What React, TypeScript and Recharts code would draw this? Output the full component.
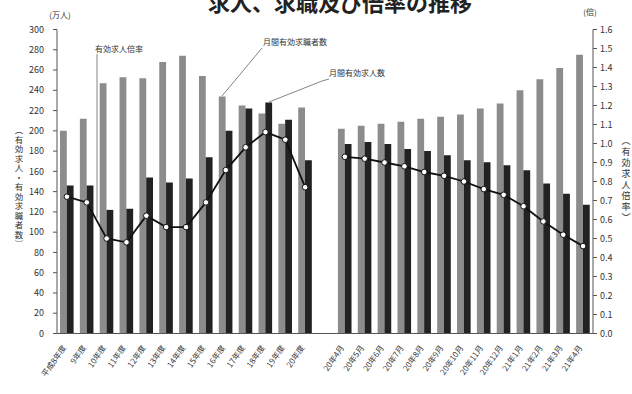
import React from 'react';
import { ComposedChart, Bar, Line, XAxis, YAxis } from 'recharts';

const categories = ['平成8年度','9年度','10年度','11年度','12年度','13年度','14年度','15年度','16年度','17年度','18年度','19年度','20年度','','20年4月','20年5月','20年6月','20年7月','20年8月','20年9月','20年10月','20年11月','20年12月','21年1月','21年2月','21年3月','21年4月'];
const seekers = [200,212,247,253,252,268,274,254,234,225,217,207,223,null,202,205,207,209,212,214,216,222,227,240,251,262,275];
const offers = [146,146,122,123,154,149,153,174,200,222,228,211,171,null,187,189,187,182,180,176,171,169,166,161,148,138,127];
const ratio = [0.72,0.69,0.50,0.48,0.62,0.56,0.56,0.69,0.86,0.98,1.06,1.02,0.77,null,0.93,0.92,0.90,0.88,0.85,0.83,0.80,0.76,0.73,0.67,0.59,0.52,0.46];
const leftTicks = [0,20,40,60,80,100,120,140,160,180,200,220,240,260,280,300];
const rightTicks = [0,0.1,0.2,0.3,0.4,0.5,0.6,0.7,0.8,0.9,1.0,1.1,1.2,1.3,1.4,1.5,1.6];

const data = categories.map((name, i) => ({ name, seekers: seekers[i], offers: offers[i], ratio: ratio[i] }));

const FONT = "'Noto Sans CJK JP', 'Noto Sans', sans-serif";

const AngledTick = (props: any) => {
  const { x, y, payload } = props;
  return (
    <g transform={`translate(${x - 2},${y + 5}) rotate(-55)`}>
      <text x={0} y={0} textAnchor="end" dominantBaseline="middle" fontSize={8} fill="#333" fontFamily={FONT}>
        {payload.value}
      </text>
    </g>
  );
};

export default function App() {
  return (
    <div style={{ position: 'absolute', left: 0, top: 0, width: 632, height: 394, background: '#fff', fontFamily: FONT }}>
      <ComposedChart width={632} height={394} data={data} margin={{ top: 29.5, right: 0, bottom: 0, left: 0 }} barGap={0} barCategoryGap="17%">
        <XAxis dataKey="name" interval={0} height={60.5} tick={<AngledTick />} tickLine={false} axisLine={{ stroke: '#555' }} />
        <YAxis yAxisId="l" domain={[0, 300]} ticks={leftTicks} width={57} tickSize={4} tickMargin={9} axisLine={{ stroke: '#555' }} tickLine={{ stroke: '#555' }} tick={{ fontSize: 9, fill: '#333' }} interval={0} />
        <YAxis yAxisId="r" orientation="right" domain={[0, 1.6]} ticks={rightTicks} width={39} tickSize={4} tickMargin={3} axisLine={{ stroke: '#555' }} tickLine={{ stroke: '#555' }} tick={{ fontSize: 9, fill: '#333' }} tickFormatter={(v: number) => v.toFixed(1)} interval={0} />
        <Bar yAxisId="l" dataKey="seekers" fill="#8c8c8c" barSize={6.8} isAnimationActive={false} />
        <Bar yAxisId="l" dataKey="offers" fill="#222" barSize={6.8} isAnimationActive={false} />
        <Line yAxisId="r" dataKey="ratio" type="linear" stroke="#111" strokeWidth={1.8} dot={{ r: 2.8, fill: '#fff', stroke: '#111', strokeWidth: 1 }} isAnimationActive={false} connectNulls={false} />
      </ComposedChart>
      <svg width={632} height={394} style={{ position: 'absolute', left: 0, top: 0, pointerEvents: 'none' }}>
        <text x={340} y={11} textAnchor="middle" fontSize={22} fontWeight="bold" fill="#222" fontFamily={FONT}>求人、求職及び倍率の推移</text>
        <text x={60} y={18} textAnchor="middle" fontSize={8} fill="#333" fontFamily={FONT}>(万人)</text>
        <text x={590} y={15} textAnchor="middle" fontSize={8} fill="#333" fontFamily={FONT}>(倍)</text>
        <text x={19} y={126} fontSize={8.5} fill="#333" fontFamily={FONT} style={{ writingMode: 'vertical-rl' as any, letterSpacing: 1 }}>（有効求人・有効求職者数）</text>
        <text x={626} y={136} fontSize={9} fill="#333" fontFamily={FONT} style={{ writingMode: 'vertical-rl' as any, letterSpacing: 2 }}>（有効求人倍率）</text>
        <text x={95} y={52} fontSize={8} fill="#333" fontFamily={FONT}>有効求人倍率</text>
        <line x1={97} y1={54} x2={97} y2={218} stroke="#666" strokeWidth={0.8} />
        <text x={263} y={45} fontSize={8} fill="#333" fontFamily={FONT}>月間有効求職者数</text>
        <line x1={262} y1={48} x2={222} y2={96} stroke="#666" strokeWidth={0.8} />
        <text x={329} y={76} fontSize={8} fill="#333" fontFamily={FONT}>月間有効求人数</text>
        <polyline points="329,79 322,81 269,102" fill="none" stroke="#666" strokeWidth={0.8} />
      </svg>
    </div>
  );
}
